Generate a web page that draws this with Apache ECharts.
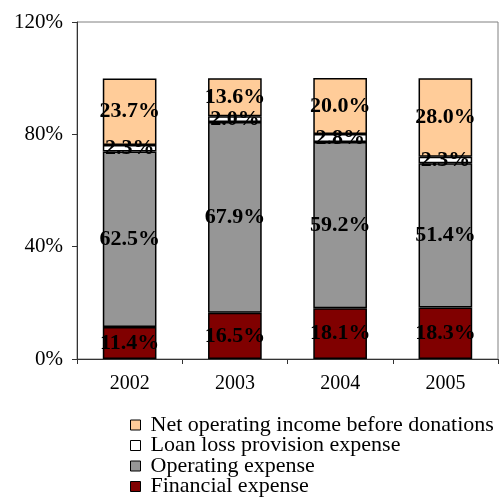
<!DOCTYPE html>
<html>
<head>
<meta charset="utf-8">
<script src="https://cdn.jsdelivr.net/npm/echarts@6/dist/echarts.min.js"></script>
<style>
  html, body { margin: 0; padding: 0; background: #fff; }
  #chart { width: 504px; height: 497px; }
</style>
</head>
<body>
<div id="chart"></div>
<script>
const years = ['2002', '2003', '2004', '2005'];
const financial = [11.4, 16.5, 18.1, 18.3];
const operating = [62.5, 67.9, 59.2, 51.4];
const loanLoss = [2.3, 2.0, 2.8, 2.3];
const netIncome = [23.7, 13.6, 20.0, 28.0];
const legendNames = [
    'Net operating income before donations',
    'Loan loss provision expense',
    'Operating expense',
    'Financial expense'
];

const font = 'Liberation Serif';

let chart = echarts.init(document.getElementById('chart'));

function barSeries(name, data, color) {
    return {
        name: name,
        type: 'bar',
        stack: 'total',
        data: data,
        barWidth: '51%',
        itemStyle: { color: color, borderColor: '#000', borderWidth: 1.5 },
        label: {
            show: true,
            position: 'inside',
            formatter: p => p.value.toFixed(1) + '%',
            color: '#000',
            fontFamily: font,
            fontWeight: 'bold',
            fontSize: 22
        }
    };
}

// one legend per row so they stack in a single column like the original
const legends = legendNames.map((name, i) => ({
    orient: 'vertical',
    left: 130,
    top: 414 + i * 20.5,
    padding: 0,
    icon: 'rect',
    itemWidth: 10,
    itemHeight: 10,
    data: [{ name: name, itemStyle: { borderColor: '#000', borderWidth: 1 } }],
    textStyle: { fontFamily: font, fontSize: 22, color: '#000', padding: [0, 0, 0, 5] }
}));

const option = {
    animation: false,
    grid: {
        left: 77,
        right: 6,
        top: 22,
        bottom: 138,
        show: true,
        borderColor: '#808080',
        borderWidth: 1
    },
    legend: legends,
    xAxis: {
        type: 'category',
        data: years,
        axisLine: { lineStyle: { color: '#333', width: 1 } },
        axisTick: { show: true, alignWithLabel: false, length: 5, lineStyle: { color: '#333' } },
        axisLabel: { color: '#000', fontFamily: font, fontSize: 20, margin: 15 }
    },
    yAxis: {
        type: 'value',
        min: 0,
        max: 120,
        interval: 40,
        axisLine: { show: true, lineStyle: { color: '#333', width: 1 } },
        axisTick: { show: true, length: 5, lineStyle: { color: '#333' } },
        splitLine: { show: false },
        axisLabel: { color: '#000', fontFamily: font, fontSize: 21, margin: 14, formatter: '{value}%' }
    },
    series: [
        barSeries('Financial expense', financial, '#800000'),
        barSeries('Operating expense', operating, '#969696'),
        barSeries('Loan loss provision expense', loanLoss, '#ffffff'),
        barSeries('Net operating income before donations', netIncome, '#ffcc99')
    ]
};

option && chart.setOption(option);
window.addEventListener('resize', chart.resize);
</script>
</body>
</html>
